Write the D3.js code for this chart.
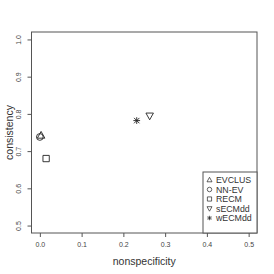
<!DOCTYPE html>
<html><head><meta charset="utf-8">
<script src="https://cdn.jsdelivr.net/npm/d3@7"></script>
<style>body{margin:0;background:#fff}svg{display:block}</style>
</head><body>
<script>
const methods = ["EVCLUS","NN-EV","RECM","sECMdd","wECMdd"];
const shapes = ["triangle","circle","square","triangleDown","asterisk"];
const nonspecificity = [0.003, 0.0, 0.015, 0.263, 0.232];
const consistency = [0.742, 0.738, 0.680, 0.795, 0.782];
const xTicks = [0.0,0.1,0.2,0.3,0.4,0.5];
const yTicks = [0.5,0.6,0.7,0.8,0.9,1.0];

const W=274,H=274;
const L=31.5,R=257,T=32,B=233;
const svg=d3.select("body").append("svg").attr("width",W).attr("height",H);
const x=d3.scaleLinear().domain([-0.02,0.52]).range([L,R]);
const y=d3.scaleLinear().domain([0.48,1.02]).range([B,T]);
const col="#333";
const font="Liberation Sans, Arial, sans-serif";

svg.append("rect").attr("x",L).attr("y",T).attr("width",R-L).attr("height",B-T)
  .attr("fill","none").attr("stroke","#555").attr("stroke-width",1);

const xa=d3.axisBottom(x).tickValues(xTicks).tickFormat(d3.format(".1f")).tickSize(4).tickPadding(5);
const gx=svg.append("g").attr("transform",`translate(0,${B})`).call(xa);
gx.select(".domain").remove();
gx.selectAll("line").attr("stroke","#555");
gx.selectAll("text").attr("font-family",font).attr("font-size",7).attr("fill","#444");

const ya=d3.axisLeft(y).tickValues(yTicks).tickFormat(d3.format(".1f")).tickSize(4);
const gy=svg.append("g").attr("transform",`translate(${L},0)`).call(ya);
gy.select(".domain").remove();
gy.selectAll("line").attr("stroke","#555");
gy.selectAll("text").attr("font-family",font).attr("font-size",7).attr("fill","#444")
  .attr("x",0).attr("dy",0).attr("text-anchor","middle")
  .attr("transform","translate(-11,0) rotate(-90)");

svg.append("text").attr("x",(L+R)/2).attr("y",265).attr("text-anchor","middle")
  .attr("font-family",font).attr("font-size",10.5).attr("fill",col).text("nonspecificity");
svg.append("text").attr("transform",`translate(9,${(T+B)/2}) rotate(-90)`).attr("text-anchor","middle")
  .attr("dy","0.35em").attr("font-family",font).attr("font-size",10.5).attr("fill",col).text("consistency");

function marker(g,shape,cx,cy,s,sw){
  const p=g.append("path").attr("fill","none").attr("stroke","#222").attr("stroke-width",sw||0.9);
  let d="";
  if(shape==="triangle"){const h=s*0.9;d=`M${cx},${cy-h*0.6}L${cx+s/2},${cy+h*0.4}L${cx-s/2},${cy+h*0.4}Z`;}
  else if(shape==="triangleDown"){const h=s*0.9;d=`M${cx},${cy+h*0.6}L${cx+s/2},${cy-h*0.4}L${cx-s/2},${cy-h*0.4}Z`;}
  else if(shape==="square"){const a=s*0.42;d=`M${cx-a},${cy-a}h${2*a}v${2*a}h${-2*a}Z`;}
  else if(shape==="circle"){const r=s*0.45;d=`M${cx-r},${cy}a${r},${r} 0 1,0 ${2*r},0a${r},${r} 0 1,0 ${-2*r},0`;}
  else if(shape==="asterisk"){const a=s*0.45;d=`M${cx-a},${cy}H${cx+a}M${cx},${cy-a}V${cy+a}M${cx-a*0.8},${cy-a*0.8}L${cx+a*0.8},${cy+a*0.8}M${cx-a*0.8},${cy+a*0.8}L${cx+a*0.8},${cy-a*0.8}`;}
  p.attr("d",d);
}
const gp=svg.append("g");
methods.forEach((m,i)=>marker(gp,shapes[i],x(nonspecificity[i]),y(consistency[i]),7.5));

// legend bottom-right
const lh=9.5, lw=54;
const lTop=172;
svg.append("rect").attr("x",R-lw).attr("y",lTop).attr("width",lw).attr("height",B-lTop)
  .attr("fill","#fff").attr("stroke","#555").attr("stroke-width",1);
const gl=svg.append("g");
methods.forEach((m,i)=>{
  const cy=lTop+8+i*lh;
  marker(gl,shapes[i],R-lw+6.5,cy,5,0.7);
  gl.append("text").attr("x",R-lw+13).attr("y",cy).attr("dy","0.35em")
    .attr("font-family",font).attr("font-size",8.8).attr("fill",col).text(m);
});
</script>
</body></html>
